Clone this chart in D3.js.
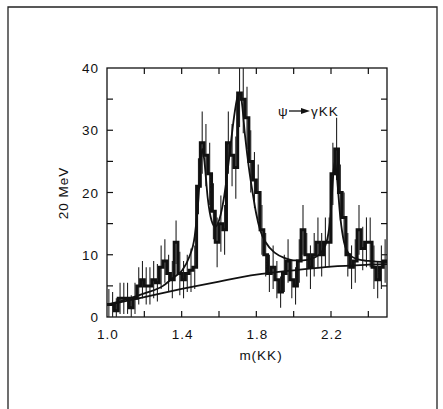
<!DOCTYPE html>
<html>
<head>
<meta charset="utf-8">
<script src="https://cdn.jsdelivr.net/npm/d3@7"></script>
<style>
	body { margin: 0; background: #fff; }
	svg text { font-family: "Liberation Sans", Arial, sans-serif; fill: #111; letter-spacing: 1px; }
</style>
</head>
<body>
<div id="chart"></div>
<script>
// events per 20 MeV bin, left edge of first bin at 1.00, bin width 0.02
var binWidth = 0.02;
var counts = [
	2, 2, 1, 3, 3, 3, 1.5, 3, 5, 6, 5, 5, 6, 5.5, 8, 9, 7, 6, 12, 7, 6, 7, 7.5, 8, 21,
	28, 26, 23, 17, 12, 15, 14, 28, 26, 24, 36, 35, 32, 25, 22, 20, 14, 10, 7, 8, 6, 4, 7, 9, 6,
	5, 9, 14, 10, 8, 10, 12, 10, 12, 12, 23, 27, 20, 16, 10, 8, 9, 14, 11, 12, 12, 8, 6, 8, 9
];
var errors = [
	2.5, 2, 2, 2.5, 2.5, 2.5, 2, 2.5, 3, 3, 3, 3, 3, 3, 3.5, 3.5, 3, 3, 3.5, 3.5, 3, 3, 3.5, 3.5, 4.5,
	5, 5, 5, 4.5, 4, 4.5, 4, 5, 5, 5, 5.5, 5.5, 5, 5, 4.5, 4.5, 4, 3.5, 3, 3.5, 3, 2.5, 3, 3.5, 3,
	3, 3.5, 4, 3.5, 3.5, 3.5, 4, 3.5, 4, 4, 5, 5, 4.5, 4, 3.5, 3.5, 3.5, 4, 3.5, 4, 4, 3.5, 3, 3.5, 3.5
];

// fitted curves
var fitMass = [1.0, 1.1, 1.2, 1.3, 1.35, 1.4, 1.44, 1.47, 1.49, 1.50, 1.51, 1.52, 1.54, 1.56, 1.58,
	1.60, 1.62, 1.64, 1.66, 1.68, 1.70, 1.71, 1.72, 1.74, 1.76, 1.78, 1.80, 1.82, 1.85, 1.90, 1.95,
	2.0, 2.05, 2.10, 2.15, 2.18, 2.20, 2.21, 2.22, 2.23, 2.25, 2.27, 2.30, 2.35, 2.40, 2.5];
var fitTotal = [2.0, 2.8, 3.8, 5.0, 6.2, 7.4, 9.6, 13, 19, 24, 27, 25.5, 19, 15.5, 14.5,
	15.5, 18, 22, 27, 32, 35.5, 36, 35, 29, 24, 20, 16.5, 14, 12, 10.3, 9.5,
	9.1, 9.1, 9.4, 10.5, 12.5, 17, 22, 25, 23, 16, 12, 10, 9.2, 9.0, 8.8];
var bgMass = [1.0, 1.2, 1.4, 1.6, 1.8, 2.0, 2.2, 2.4, 2.5];
var bgValues = [1.9, 3.2, 4.5, 5.7, 6.8, 7.5, 8.1, 8.4, 8.5];

var xTickLabels = [1.0, 1.4, 1.8, 2.2];
var xMinorTicks = [1.2, 1.4, 1.6, 1.8, 2.0, 2.2, 2.4];
var yTickLabels = [0, 10, 20, 30, 40];
var yMinorTicks = [5, 10, 15, 20, 25, 30, 35];

var W = 443, H = 409;
var frameL = 107, frameR = 387, frameT = 68, frameB = 317;
var fs = 13.5;

var svg = d3.select("#chart").append("svg")
	.attr("width", W)
	.attr("height", H);

// page border of the scan
svg.append("path")
	.attr("d", "M8," + H + "V7H437V" + H)
	.attr("fill", "none")
	.attr("stroke", "#222")
	.attr("stroke-width", 1.3);

var x = d3.scaleLinear().domain([1.0, 2.5]).range([frameL, frameR]);
var y = d3.scaleLinear().domain([0, 40]).range([frameB, frameT]);

svg.append("clipPath").attr("id", "plot")
	.append("rect")
	.attr("x", frameL).attr("y", frameT)
	.attr("width", frameR - frameL).attr("height", frameB - frameT);

// frame
svg.append("rect")
	.attr("x", frameL).attr("y", frameT)
	.attr("width", frameR - frameL).attr("height", frameB - frameT)
	.attr("fill", "none")
	.attr("stroke", "#111")
	.attr("stroke-width", 1.3);

// inward ticks on all four sides
var tl = 6;
var g = svg.append("g").attr("stroke", "#111").attr("stroke-width", 1.2);
xMinorTicks.forEach(function (m) {
	g.append("line").attr("x1", x(m)).attr("x2", x(m)).attr("y1", frameB).attr("y2", frameB - tl);
	g.append("line").attr("x1", x(m)).attr("x2", x(m)).attr("y1", frameT).attr("y2", frameT + tl);
});
yMinorTicks.forEach(function (v) {
	g.append("line").attr("x1", frameL).attr("x2", frameL + tl).attr("y1", y(v)).attr("y2", y(v));
	g.append("line").attr("x1", frameR).attr("x2", frameR - tl).attr("y1", y(v)).attr("y2", y(v));
});

// tick labels
svg.selectAll(".xl").data(xTickLabels).enter().append("text")
	.attr("x", function (d) { return x(d) + 1; })
	.attr("y", 339)
	.attr("text-anchor", "middle")
	.attr("font-size", fs)
	.text(function (d) { return d.toFixed(1); });

svg.selectAll(".yl").data(yTickLabels).enter().append("text")
	.attr("x", 99)
	.attr("y", function (d) { return y(d) + 5; })
	.attr("text-anchor", "end")
	.attr("font-size", fs)
	.text(function (d) { return d; });

svg.append("text")
	.attr("x", 261).attr("y", 360)
	.attr("text-anchor", "middle")
	.attr("font-size", fs)
	.text("m(KK)");

svg.append("text")
	.attr("transform", "translate(68,193) rotate(-90)")
	.attr("text-anchor", "middle")
	.attr("font-size", fs)
	.text("20 MeV");

// process label with arrow
svg.append("text")
	.attr("x", 278).attr("y", 116)
	.attr("font-size", fs)
	.text("\u03c8");
svg.append("line")
	.attr("x1", 289).attr("y1", 111).attr("x2", 303).attr("y2", 111)
	.attr("stroke", "#111").attr("stroke-width", 1.3);
svg.append("path")
	.attr("d", "M301,108L310,111L301,114Z")
	.attr("fill", "#111");
svg.append("text")
	.attr("x", 311).attr("y", 116)
	.attr("font-size", fs)
	.text("\u03b3KK");

var plot = svg.append("g").attr("clip-path", "url(#plot)");

var bins = counts.map(function (c, i) {
	return { lo: 1.0 + i * binWidth, v: c, e: errors[i] };
});

// error bars
plot.selectAll(".err").data(bins).enter().append("line")
	.attr("x1", function (d) { return x(d.lo + binWidth / 2); })
	.attr("x2", function (d) { return x(d.lo + binWidth / 2); })
	.attr("y1", function (d) { return y(Math.max(0, d.v - d.e)); })
	.attr("y2", function (d) { return y(d.v + d.e); })
	.attr("stroke", "#222")
	.attr("stroke-width", 1.1);

// histogram
var steps = bins.map(function (d) { return [d.lo, d.v]; });
steps.push([2.5, counts[counts.length - 1]]);
plot.append("path")
	.attr("d", d3.line()
		.x(function (d) { return x(d[0]); })
		.y(function (d) { return y(d[1]); })
		.curve(d3.curveStepAfter)(steps))
	.attr("fill", "none")
	.attr("stroke", "#111")
	.attr("stroke-width", 3);

// fits
var fitLine = d3.line()
	.x(function (d) { return x(d[0]); })
	.y(function (d) { return y(d[1]); })
	.curve(d3.curveMonotoneX);

plot.append("path")
	.attr("d", fitLine(bgMass.map(function (m, i) { return [m, bgValues[i]]; })))
	.attr("fill", "none")
	.attr("stroke", "#111")
	.attr("stroke-width", 1.8);

plot.append("path")
	.attr("d", fitLine(fitMass.map(function (m, i) { return [m, fitTotal[i]]; })))
	.attr("fill", "none")
	.attr("stroke", "#111")
	.attr("stroke-width", 1.8);
</script>
</body>
</html>
